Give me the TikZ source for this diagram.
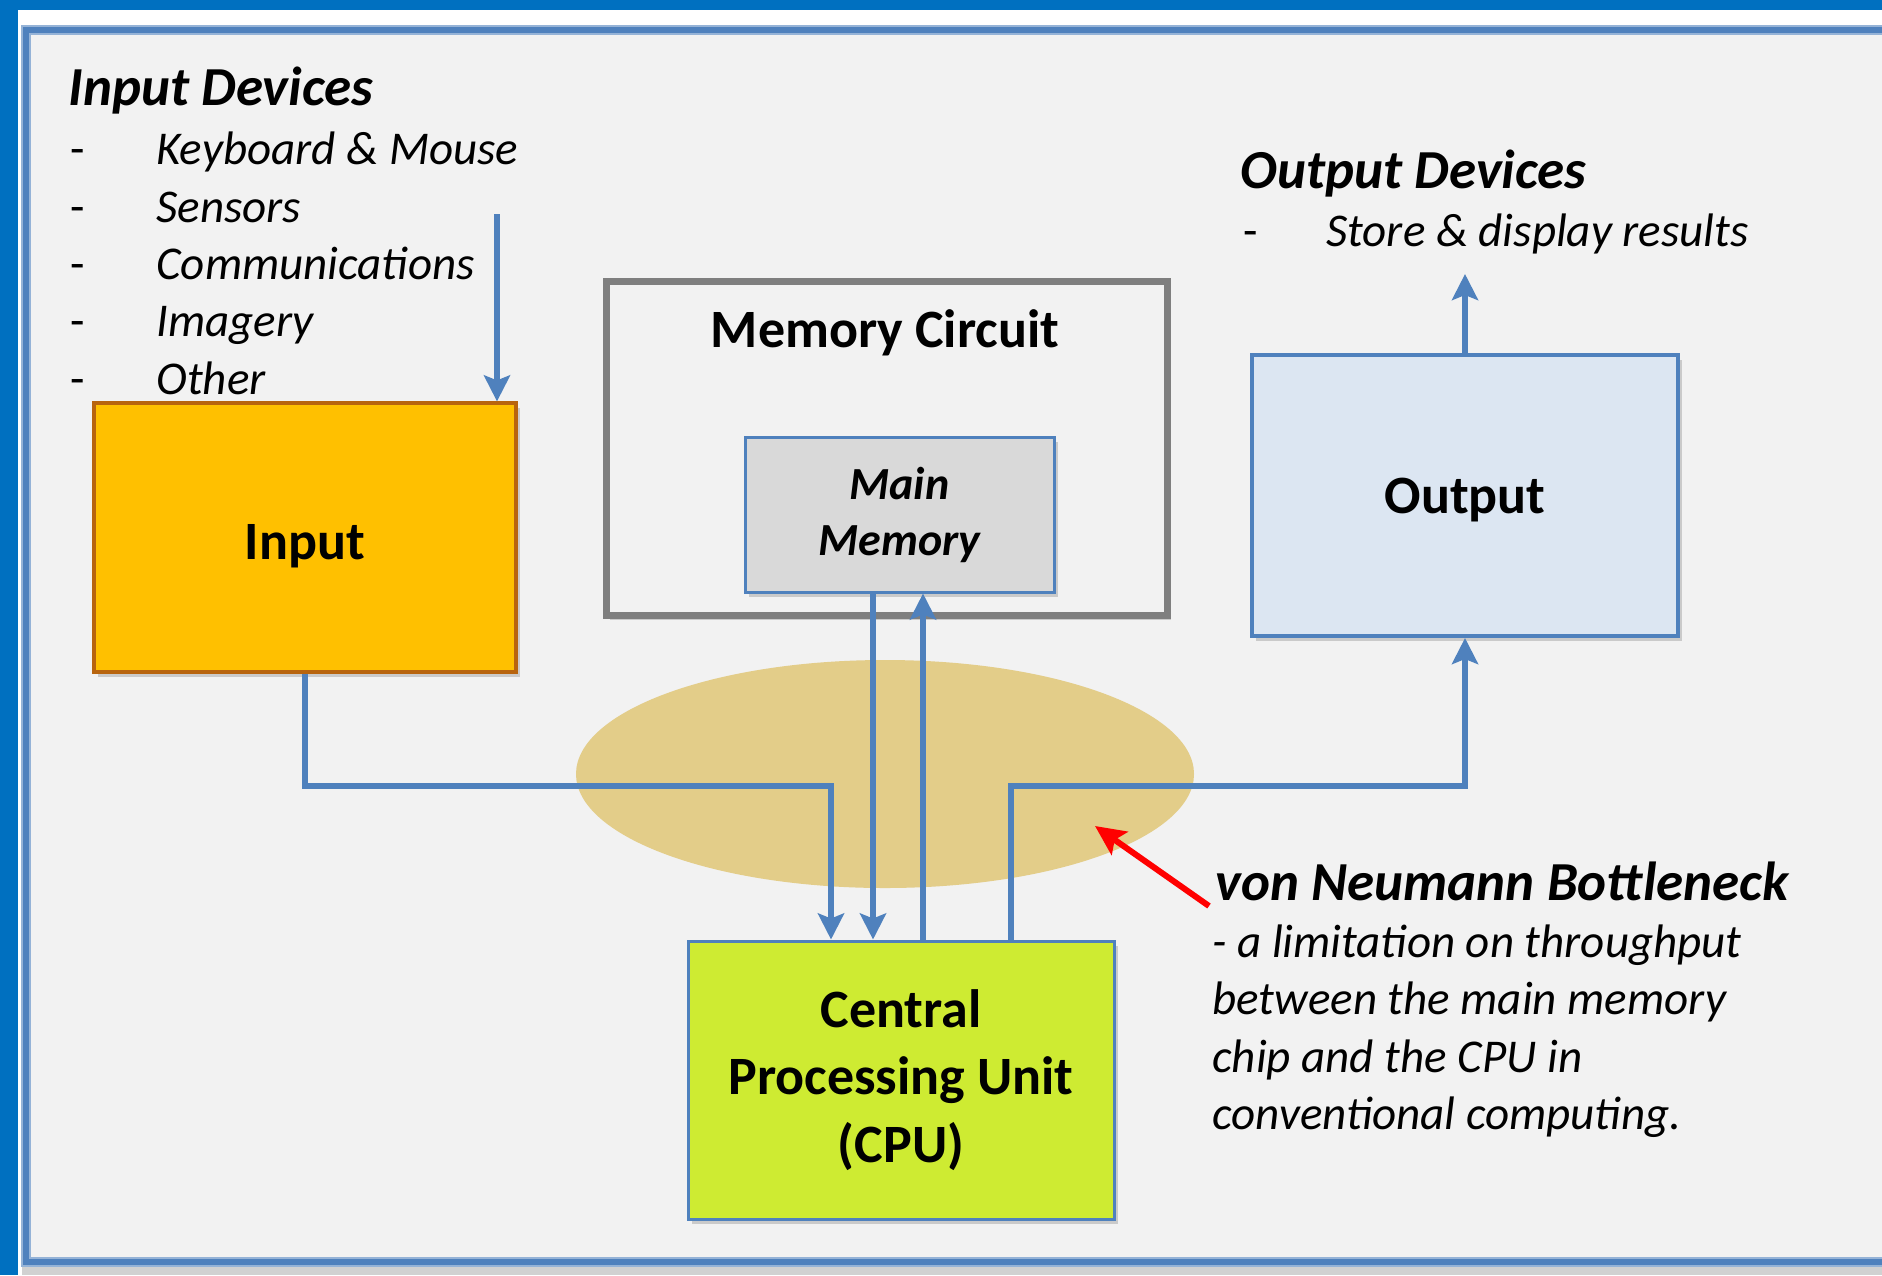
\documentclass[tikz,border=0pt]{standalone}
\usepackage{fontspec}
\setmainfont{Carlito}
\usetikzlibrary{arrows.meta,shapes.geometric,shadows}
\definecolor{barblue}{HTML}{0070C0}
\definecolor{lineblue}{HTML}{4F81BD}
\definecolor{lightblue}{HTML}{95B3D7}
\definecolor{panelfill}{HTML}{F2F2F2}
\definecolor{neckfill}{RGB}{227,205,137}
\definecolor{inorange}{HTML}{FFC000}
\definecolor{inborder}{HTML}{B8640E}
\definecolor{outfill}{HTML}{DCE6F2}
\definecolor{memfill}{HTML}{D9D9D9}
\definecolor{cpufill}{RGB}{206,235,50}
\definecolor{memgray}{HTML}{7F7F7F}
\tikzset{
  boxtext/.style={font=\fontsize{27}{33.6}\selectfont\bfseries, align=center, inner sep=0},
  heading/.style={font=\fontsize{27.5}{32}\selectfont\bfseries\itshape, anchor=base west, inner sep=0},
  item/.style={font=\fontsize{23.5}{28.8}\selectfont\itshape, anchor=base west, inner sep=0},
  dashmark/.style={font=\fontsize{23.5}{28.8}\selectfont, anchor=base west, inner sep=0},
  arr/.style={draw=lineblue, line width=3pt, -{Stealth[length=13pt,width=13pt,inset=2.5pt]}},
  redarr/.style={draw=red, line width=3pt, -{Stealth[length=15pt,width=14pt,inset=3pt]}},
  boxshadow/.style={drop shadow={shadow xshift=2pt, shadow yshift=-2.5pt, opacity=0.35, fill=black!50}}
}
\begin{document}
\begin{tikzpicture}[x=0.5pt,y=-0.5pt]
% background and frame
\useasboundingbox (0,0) rectangle (1882,1275);
\fill[white] (0,0) rectangle (1882,1275);
\fill[black!18] (22,1266) rectangle (1882,1275);
\fill[barblue] (0,0) rectangle (1882,10);
\fill[barblue] (0,0) rectangle (18,1275);
\draw[lightblue, line width=5pt, fill=panelfill] (26,30) rectangle (1900,1262);
\draw[lineblue, line width=3pt] (26,30) rectangle (1900,1262);

% bottleneck ellipse
\node[ellipse, fill=neckfill, draw=none, minimum width=309pt, minimum height=114pt, inner sep=0] (neck) at (885,774) {};

% boxes
\node[draw=inborder, fill=inorange, line width=1.6pt, minimum width=211pt, minimum height=134.5pt, inner sep=0, boxshadow] (inbox) at (305,537.5) {};
\node[boxtext] (intext) at (305,546) {Input};
\node[draw=memgray, fill=panelfill, line width=3.5pt, minimum width=280.5pt, minimum height=167pt, inner sep=0, boxshadow] (memc) at (886.5,448) {};
\node[boxtext, anchor=base] (memtitle) at (885,347.5) {Memory Circuit};
\node[draw=lineblue, fill=memfill, line width=1.5pt, minimum width=154.5pt, minimum height=77.5pt, font=\fontsize{23}{28}\selectfont\bfseries\itshape, align=center, inner sep=0, boxshadow] (mainmem) at (899.5,514.5) {Main\\Memory};
\node[draw=lineblue, fill=outfill, line width=2pt, minimum width=213pt, minimum height=140.5pt, inner sep=0, boxshadow] (outbox) at (1465,495.5) {};
\node[boxtext] (outtext) at (1465,500.5) {Output};
\node[draw=lineblue, fill=cpufill, line width=1.5pt, minimum width=213pt, minimum height=139pt, boxtext, boxshadow] (cpu) at (901,1080) {Central\\Processing Unit\\(CPU)};

% connector coordinates
\coordinate (inTop) at (497,214);
\coordinate (b1) at (831,786);
\coordinate (m1) at (873,600);
\coordinate (m2) at (923,600);
\coordinate (b2) at (1011,786);
\coordinate (outTop) at (1465,274);
\coordinate (r1) at (1209,906);
\coordinate (r2) at (1095,826);

% connectors
\draw[arr] (inTop) -- (inTop |- inbox.north);
\draw[arr] (inbox.south) |- (b1) -- (b1 |- cpu.north);
\draw[arr] (mainmem.south -| m1) -- (m1 |- cpu.north);
\draw[arr] (cpu.north -| m2) -- (m2 |- mainmem.south);
\draw[arr] (cpu.north -| b2) |- (b2 -| outbox.south) -- (outbox.south);
\draw[arr] (outbox.north) -- (outTop);
\draw[redarr] (r1) -- (r2);

% input devices
\node[heading] (inhead) at (68,105) {Input Devices};
\node[dashmark] (d1) at (70,164) {-};
\node[item] (i1) at (156,164) {Keyboard \& Mouse};
\node[dashmark] (d2) at (70,222) {-};
\node[item] (i2) at (156,222) {Sensors};
\node[dashmark] (d3) at (70,279) {-};
\node[item] (i3) at (156,279) {Communications};
\node[dashmark] (d4) at (70,336) {-};
\node[item] (i4) at (156,336) {Imagery};
\node[dashmark] (d5) at (70,394) {-};
\node[item] (i5) at (156,394) {Other};

% output devices
\node[heading] (outhead) at (1240,188) {Output Devices};
\node[dashmark] (od1) at (1243,246) {-};
\node[item] (o1) at (1326,246) {Store \& display results};

% bottleneck description
\node[heading] (vnhead) at (1215,900) {von Neumann Bottleneck};
\node[item] (v1) at (1212,957) {- a limitation on throughput};
\node[item] (v2) at (1212,1014.5) {between the main memory};
\node[item] (v3) at (1212,1072) {chip and the CPU in};
\node[item] (v4) at (1212,1129.5) {conventional computing.};
\end{tikzpicture}
\end{document}
